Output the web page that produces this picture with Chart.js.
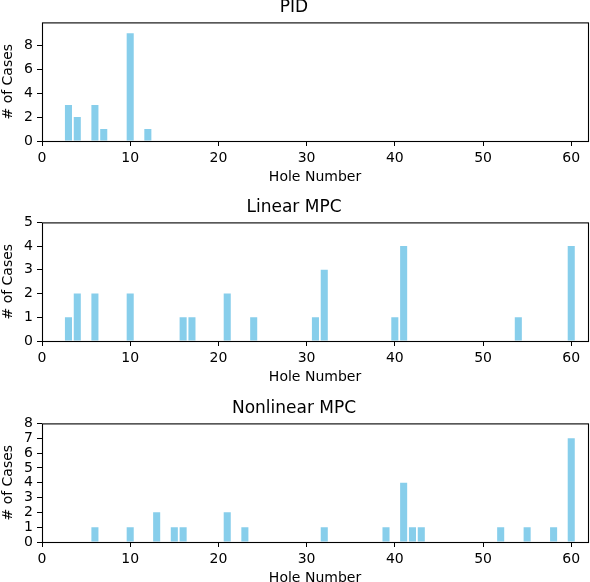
<!DOCTYPE html>
<html>
<head>
<meta charset="utf-8">
<script src="https://cdn.jsdelivr.net/npm/chart.js@4/dist/chart.umd.min.js"></script>
<style>
  body { margin: 0; width: 590px; height: 582px; overflow: hidden; background: #fff; position: relative; }
  .panel { position: absolute; left: 0; width: 590px; height: 194px; }
</style>
</head>
<body>
<div class="panel" style="top:-8px"><canvas id="pid" width="590" height="194"></canvas></div>
<div class="panel" style="top:192px"><canvas id="lin" width="590" height="194"></canvas></div>
<div class="panel" style="top:393px"><canvas id="non" width="590" height="194"></canvas></div>
<script>
// datos
const pidHoles = [3, 4, 6, 7, 10, 12];
const pidCases = [3, 2, 3, 1, 9, 1];

const linHoles = [3, 4, 6, 10, 16, 17, 21, 24, 31, 32, 40, 41, 54, 60];
const linCases = [1, 2, 2, 2, 1, 1, 2, 1, 1, 3, 1, 4, 1, 4];

const nonHoles = [6, 10, 13, 15, 16, 21, 23, 32, 39, 41, 42, 43, 52, 55, 58, 60];
const nonCases = [1, 1, 2, 1, 1, 2, 1, 1, 1, 4, 1, 1, 1, 1, 1, 7];

const titulos = ['PID', 'Linear MPC', 'Nonlinear MPC'];
const xTicks = [0, 10, 20, 30, 40, 50, 60];

Chart.defaults.color = '#000';
Chart.defaults.font.family = "'DejaVu Sans', sans-serif";
Chart.defaults.font.size = 14;

// marco completo alrededor del area (como los spines de matplotlib)
const marco = {
    id: 'marco',
    afterDraw(chart) {
        const { ctx, chartArea: a } = chart;
        ctx.save();
        ctx.strokeStyle = '#000';
        ctx.lineWidth = 1.1;
        ctx.strokeRect(a.left + 0.5, a.top + 0.5, a.width, a.height);
        ctx.restore();
    }
};

const crearGrafico = (id, titulo, holes, cases, yMax, yStep) => {
    const ctx = document.getElementById(id).getContext('2d');
    return new Chart(ctx, {
        type: 'bar',
        data: {
            datasets: [{
                data: holes.map((h, i) => ({ x: h, y: cases[i] })),
                backgroundColor: '#87CEEB',
                borderWidth: 0,
                categoryPercentage: 1,
                barPercentage: 0.8
            }]
        },
        options: {
            responsive: false,
            animation: false,
            layout: { padding: { left: 0, right: 2, top: 0, bottom: 0 } },
            plugins: {
                legend: { display: false },
                tooltip: { enabled: false },
                title: {
                    display: true,
                    text: titulo,
                    color: '#000',
                    font: { size: 17, weight: 'normal', lineHeight: 1.2 },
                    padding: { top: 5, bottom: 5 }
                }
            },
            scales: {
                x: {
                    type: 'linear',
                    min: 0,
                    max: 61.9,
                    offset: false,
                    grid: { offset: false, drawOnChartArea: false, tickLength: 5, color: '#000', lineWidth: 1 },
                    border: { display: false },
                    afterBuildTicks: s => { s.ticks = xTicks.map(v => ({ value: v })); },
                    ticks: { padding: 4, autoSkip: false, maxRotation: 0 },
                    title: { display: true, text: 'Hole Number', padding: { top: 0, bottom: 0 } },
                    afterFit: s => { s.height = 45; }
                },
                y: {
                    min: 0,
                    max: yMax,
                    grid: { drawOnChartArea: false, tickLength: 5, color: '#000', lineWidth: 1 },
                    border: { display: false },
                    ticks: { stepSize: yStep, padding: 4, autoSkip: false, includeBounds: false },
                    title: { display: true, text: '# of Cases', padding: { top: 0, bottom: 0 } },
                    afterFit: s => { s.width = 42; }
                }
            }
        },
        plugins: [marco]
    });
};

crearGrafico('pid', titulos[0], pidHoles, pidCases, 9.9, 2);
crearGrafico('lin', titulos[1], linHoles, linCases, 5, 1);
crearGrafico('non', titulos[2], nonHoles, nonCases, 8, 1);
</script>
</body>
</html>
